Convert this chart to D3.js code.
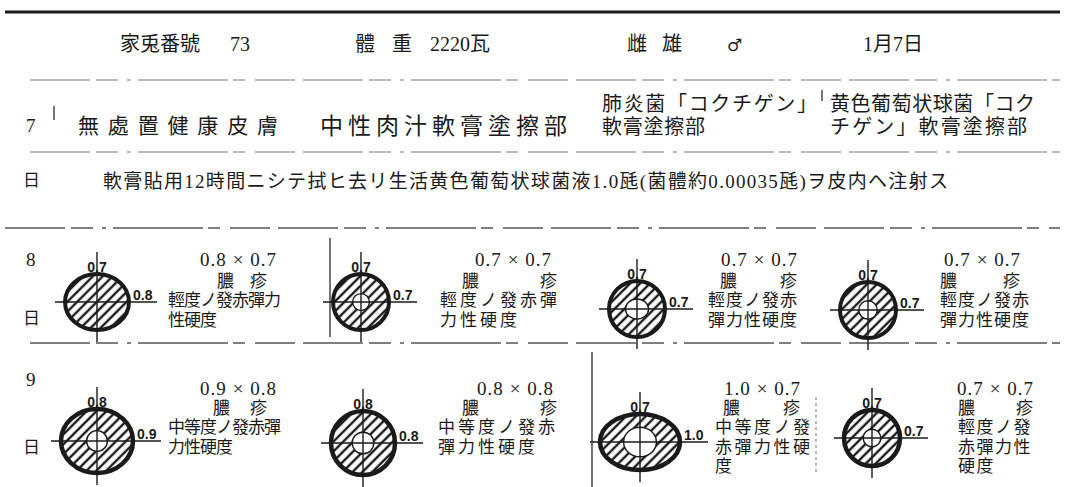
<!DOCTYPE html>
<html><head><meta charset="utf-8">
<script src="https://cdn.jsdelivr.net/npm/d3@7"></script>
<style>html,body{margin:0;padding:0;background:#fff;overflow:hidden}</style>
</head><body>
<svg id="chart" width="1074" height="487"></svg>
<script>
// ---------------- data ----------------
const headerTexts = ["家兎番號", "73", "體", "重", "2220瓦", "雌", "雄", "♂", "1月7日"];
const dayLabels = ["7", "8", "9"];
const dayUnit = "日";
const siteLines = [
  ["無處置健康皮膚"],
  ["中性肉汁軟膏塗擦部"],
  ["肺炎菌「コクチゲン」", "軟膏塗擦部"],
  ["黄色葡萄状球菌「コク", "チゲン」軟膏塗擦部"]
];
const injectionNote = "軟膏貼用12時間ニシテ拭ヒ去リ生活黄色葡萄状球菌液1.0瓱(菌體約0.00035瓱)ヲ皮内ヘ注射ス";
const lesionName = ["膿", "疹"];
// day 8
const widthDay8 = [0.8, 0.7, 0.7, 0.7];
const heightDay8 = [0.7, 0.7, 0.7, 0.7];
const holeWDay8 = [0, 0.21, 0.29, 0.23];
const holeHDay8 = [0, 0.21, 0.25, 0.23];
const findingsDay8 = [
  ["輕度ノ發赤彈力", "性硬度"],
  ["輕度ノ發赤彈", "力性硬度"],
  ["輕度ノ發赤", "彈力性硬度"],
  ["輕度ノ發赤", "彈力性硬度"]
];
// day 9
const widthDay9 = [0.9, 0.8, 1.0, 0.7];
const heightDay9 = [0.8, 0.8, 0.7, 0.7];
const holeWDay9 = [0.26, 0.27, 0.41, 0.22];
const holeHDay9 = [0.26, 0.27, 0.37, 0.22];
const findingsDay9 = [
  ["中等度ノ發赤彈", "力性硬度"],
  ["中等度ノ發赤", "彈力性硬度"],
  ["中等度ノ發", "赤彈力性硬", "度"],
  ["輕度ノ發", "赤彈力性", "硬度"]
];

// ---------------- layout ----------------
const svg = d3.select("#chart");
const FONT = "'Liberation Serif', 'Noto Sans CJK JP', serif";
const LFONT = "'Liberation Sans', 'DejaVu Sans', sans-serif";
const ink = "#1a1a1a";
const size = d3.scaleLinear().domain([0, 1]).range([0, 40]);

function txt(x, y, s, fs, o = {}) {
  const t = svg.append("text")
    .attr("x", x).attr("y", y)
    .attr("dominant-baseline", "central")
    .attr("font-family", o.family || FONT)
    .attr("font-size", fs)
    .attr("fill", ink)
    .attr("text-anchor", o.anchor || "start")
    .text(s);
  if (o.len) t.attr("textLength", o.len).attr("lengthAdjust", o.adjust || "spacing");
  if (o.weight) t.attr("font-weight", o.weight);
  if (o.ls !== undefined) t.attr("letter-spacing", o.ls);
  return t;
}
function hline(x1, x2, y, w, dash, col) {
  svg.append("line").attr("x1", x1).attr("x2", x2).attr("y1", y).attr("y2", y)
    .attr("stroke", col || ink).attr("stroke-width", w)
    .attr("stroke-dasharray", dash || null);
}
function vline(x, y1, y2, w, dash, col) {
  svg.append("line").attr("x1", x).attr("x2", x).attr("y1", y1).attr("y2", y2)
    .attr("stroke", col || ink).attr("stroke-width", w)
    .attr("stroke-dasharray", dash || null);
}

// hatch pattern
const defs = svg.append("defs");
const pat = defs.append("pattern").attr("id", "hatch")
  .attr("patternUnits", "userSpaceOnUse").attr("width", 7).attr("height", 7)
  .attr("patternTransform", "rotate(45)");
pat.append("rect").attr("width", 7).attr("height", 7).attr("fill", "#fff");
pat.append("line").attr("x1", 2).attr("x2", 2).attr("y1", 0).attr("y2", 7)
  .attr("stroke", ink).attr("stroke-width", 2.4);

// rules
const dashPat = "60 6 22 9 4 7 90 5 12 10 40 8";
hline(5, 1060, 12, 3);
hline(30, 1060, 80, 1.1, dashPat, "#777");
hline(30, 1060, 152, 1.1, dashPat, "#777");
hline(5, 1060, 228, 1.3, dashPat, "#555");
hline(30, 1060, 343, 1.3, dashPat, "#555");
vline(54, 106, 120, 1.2);
vline(822, 90, 101, 1.2);
vline(330, 238, 337, 1.2);
vline(592, 352, 487, 1.2);
vline(816, 397, 472, 1, "3 3", "#777");

// header
const headerX = [120, 230, 355, 392, 430, 627, 662, 727, 863];
headerTexts.forEach((s, i) => {
  if (s === "♂") txt(headerX[i], 45, s, 17, { family: "'DejaVu Sans', sans-serif" });
  else txt(headerX[i], 44, s, 20);
});

// day 7: sites
txt(26, 125, dayLabels[0], 19);
const siteX = [78, 320, 602, 830];
const siteLen = [[200], [247], [215, 103], [205, 197]];
siteLines.forEach((lines, i) => {
  if (lines.length === 1) {
    txt(siteX[i], 126, lines[0], i === 0 ? 21 : 23, { len: siteLen[i][0] });
  } else {
    lines.forEach((l, j) => txt(siteX[i], j === 0 ? 104 : 127, l, 20, { len: siteLen[i][j] }));
  }
});
txt(23, 180, dayUnit, 17);
txt(103, 181, injectionNote, 19, { len: 845 });

// lesion drawing
function lesion(cx, cy, w, h, hw, hh, thick) {
  const rx = size(w), ry = size(h);
  svg.append("ellipse").attr("cx", cx).attr("cy", cy).attr("rx", rx).attr("ry", ry)
    .attr("fill", "url(#hatch)").attr("stroke", ink).attr("stroke-width", thick);
  if (hw > 0) {
    svg.append("ellipse").attr("cx", cx).attr("cy", cy).attr("rx", size(hw)).attr("ry", size(hh))
      .attr("fill", "#fff").attr("stroke", ink).attr("stroke-width", 1.4);
  }
  svg.append("line").attr("x1", cx).attr("x2", cx).attr("y1", cy - ry - 22).attr("y2", cy + ry + 12)
    .attr("stroke", ink).attr("stroke-width", 1.4);
  svg.append("line").attr("x1", cx - rx - 10).attr("x2", cx + rx + 28).attr("y1", cy).attr("y2", cy)
    .attr("stroke", ink).attr("stroke-width", 1.4);
  txt(cx, cy - ry - 7, h.toFixed(1), 14, { anchor: "middle", family: LFONT, weight: "bold" });
  txt(cx + rx + 4, cy - 7, w.toFixed(1), 14, { family: LFONT, weight: "bold" });
}

const DFS = 17;
function dayRow(k, widths, heights, hw, hh, findings, L, thick) {
  txt(26, L.labelY[0], dayLabels[k], 19);
  txt(23, L.labelY[1], dayUnit, 17);
  widths.forEach((w, i) => {
    lesion(L.cx[i], L.cy[i], w, heights[i], hw[i], hh[i], thick);
    txt(L.firstCx[i], L.lineY[0], `${w.toFixed(1)} × ${heights[i].toFixed(1)}`, 19, { anchor: "middle", len: 76 });
    txt(L.name[i][0], L.lineY[1], lesionName[0], DFS);
    txt(L.name[i][1], L.lineY[1], lesionName[1], DFS, { anchor: "end" });
    findings[i].forEach((l, j) => txt(L.left[i], L.lineY[j + 2], l, DFS, { ls: L.pitch[i] - DFS }));
  });
}

dayRow(1, widthDay8, heightDay8, holeWDay8, holeHDay8, findingsDay8, {
  cx: [97, 361, 637, 868], cy: [302, 302, 309, 310],
  left: [168, 440, 708, 940], pitch: [16, 20, 18, 18],
  firstCx: [238, 513, 759, 982],
  name: [[217, 267], [462, 557], [720, 797], [940, 1020]],
  lineY: [259, 281, 300, 320], labelY: [259, 318]
}, 4);

dayRow(2, widthDay9, heightDay9, holeWDay9, holeHDay9, findingsDay9, {
  cx: [97, 363, 640, 872], cy: [441, 443, 442, 438],
  left: [168, 438, 715, 958], pitch: [16, 20, 19.5, 18.5],
  firstCx: [238, 515, 762, 995],
  name: [[213, 267], [462, 557], [723, 800], [958, 1033]],
  lineY: [388, 408, 427, 447, 466], labelY: [379, 447]
}, 4.5);
</script>
</body></html>
